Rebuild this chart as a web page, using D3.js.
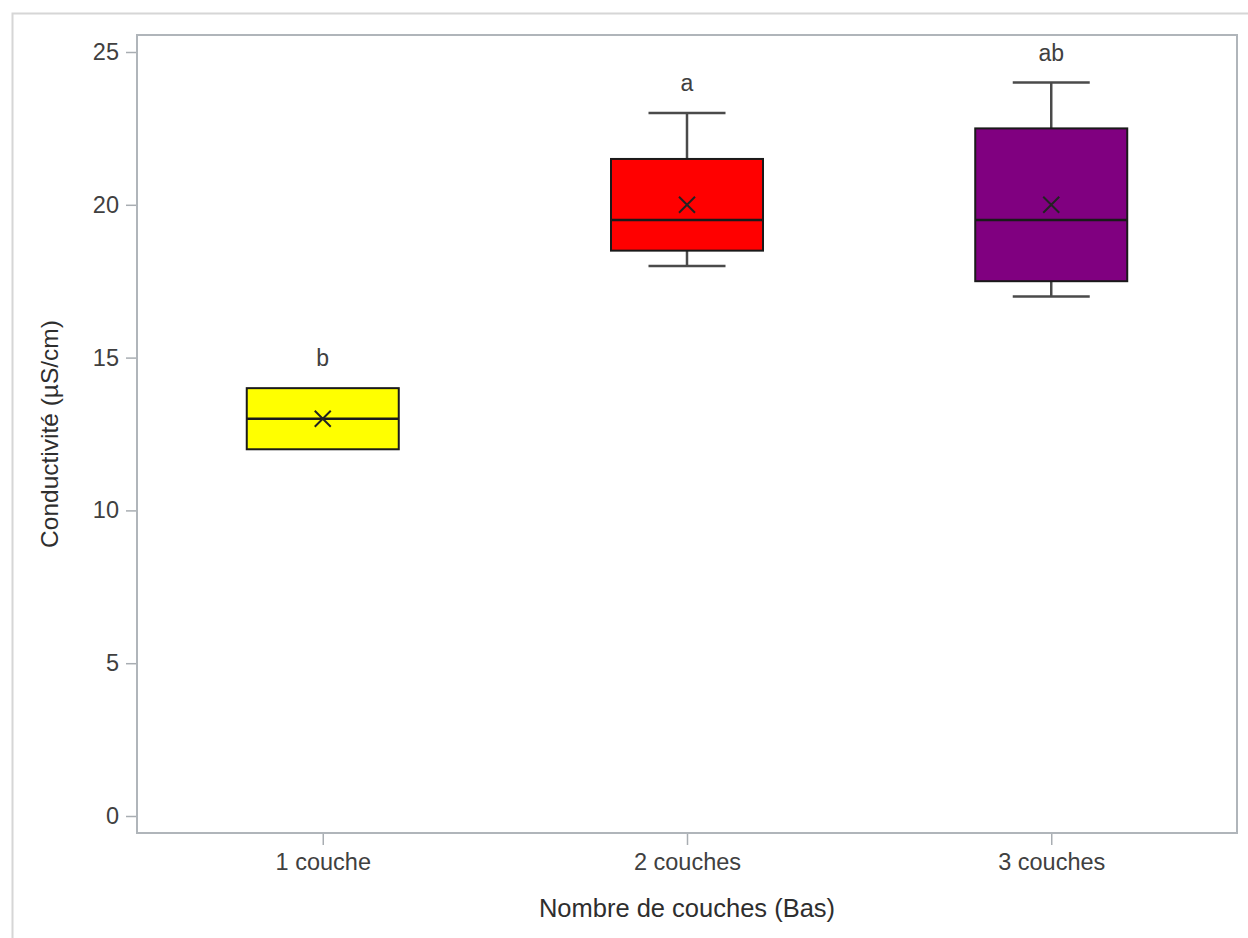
<!DOCTYPE html>
<html><head><meta charset="utf-8">
<script src="https://cdn.jsdelivr.net/npm/d3@7"></script>
<style>
html,body{margin:0;padding:0;background:#fff;overflow:hidden;}
svg{display:block;}
text{font-family:"Liberation Sans",Arial,sans-serif;}
</style></head>
<body>
<script>
const categories = ["1 couche", "2 couches", "3 couches"];
const mins    = [12, 18, 17];
const q1s     = [12, 18.5, 17.5];
const medians = [13, 19.5, 19.5];
const q3s     = [14, 21.5, 22.5];
const maxs    = [14, 23, 24];
const means   = [13, 20, 20];
const letters = ["b", "a", "ab"];
const colors  = ["#ffff00", "#ff0000", "#800080"];
const yTicks  = [0, 5, 10, 15, 20, 25];

const W = 1248, H = 938;
const mLeft = 137, mRight = 1237, mTop = 35, mBottom = 833;

const svg = d3.select("body").append("svg").attr("width", W).attr("height", H);

// outer border
svg.append("rect").attr("x", 12.5).attr("y", 13.5).attr("width", W).attr("height", H)
  .attr("fill", "none").attr("stroke", "#d6d6d6").attr("stroke-width", 2);

const y = d3.scaleLinear().domain([0, 25]).range([816, 52]);
const x = d3.scalePoint().domain(categories).range([mLeft, mRight]).padding(0.51);

// Axes
const yAxis = d3.axisLeft(y).tickValues(yTicks).tickSize(11).tickPadding(7);
const gy = svg.append("g").attr("transform", `translate(${mLeft},0)`).call(yAxis);
const xAxis = d3.axisBottom(x).tickSize(12).tickPadding(8);
const gx = svg.append("g").attr("transform", `translate(0,${mBottom})`).call(xAxis);
[gy, gx].forEach(g => {
  g.select(".domain").remove();
  g.selectAll(".tick line").attr("stroke", "#a8adb2").attr("stroke-width", 1.5);
  g.selectAll(".tick text").attr("fill", "#404040").style("font-size", "23.5px")
    .style("font-family", '"Liberation Sans",Arial,sans-serif');
});

// frame
svg.append("rect").attr("x", mLeft).attr("y", mTop).attr("width", mRight - mLeft).attr("height", mBottom - mTop)
  .attr("fill", "none").attr("stroke", "#b0b5ba").attr("stroke-width", 2);

const boxW = 152, capW = 77;
const g = svg.append("g");
categories.forEach((c, i) => {
  const cx = x(c);
  // whiskers
  if (maxs[i] > q3s[i]) {
    g.append("line").attr("x1", cx).attr("x2", cx).attr("y1", y(q3s[i])).attr("y2", y(maxs[i]))
      .attr("stroke", "#4a4a4a").attr("stroke-width", 2.5);
    g.append("line").attr("x1", cx - capW/2).attr("x2", cx + capW/2).attr("y1", y(maxs[i])).attr("y2", y(maxs[i]))
      .attr("stroke", "#4a4a4a").attr("stroke-width", 2.5);
  }
  if (mins[i] < q1s[i]) {
    g.append("line").attr("x1", cx).attr("x2", cx).attr("y1", y(q1s[i])).attr("y2", y(mins[i]))
      .attr("stroke", "#4a4a4a").attr("stroke-width", 2.5);
    g.append("line").attr("x1", cx - capW/2).attr("x2", cx + capW/2).attr("y1", y(mins[i])).attr("y2", y(mins[i]))
      .attr("stroke", "#4a4a4a").attr("stroke-width", 2.5);
  }
  // box
  g.append("rect").attr("x", cx - boxW/2).attr("y", y(q3s[i])).attr("width", boxW)
    .attr("height", y(q1s[i]) - y(q3s[i])).attr("fill", colors[i])
    .attr("stroke", "#1a1a1a").attr("stroke-width", 2);
  // median
  g.append("line").attr("x1", cx - boxW/2).attr("x2", cx + boxW/2).attr("y1", y(medians[i])).attr("y2", y(medians[i]))
    .attr("stroke", "#1a1a1a").attr("stroke-width", 2.5);
  // mean X
  const s = 8, my = y(means[i]);
  g.append("path").attr("d", `M${cx - s},${my - s}L${cx + s},${my + s}M${cx - s},${my + s}L${cx + s},${my - s}`)
    .attr("stroke", "#222").attr("stroke-width", 2).attr("fill", "none");
  // letter
  g.append("text").attr("x", cx).attr("y", y(maxs[i]) - 30).attr("dy", "0.35em")
    .attr("text-anchor", "middle").attr("fill", "#404040").style("font-size", "23px").text(letters[i]);
});

// axis titles
svg.append("text").attr("x", (mLeft + mRight) / 2).attr("y", 908).attr("dy", "0.35em")
  .attr("text-anchor", "middle").attr("fill", "#2e2e2e").style("font-size", "25.5px")
  .text("Nombre de couches (Bas)");
svg.append("text").attr("transform", `translate(49,${(mTop + mBottom) / 2}) rotate(-90)`).attr("dy", "0.35em")
  .attr("text-anchor", "middle").attr("fill", "#2e2e2e").style("font-size", "24.5px")
  .text("Conductivité (µS/cm)");
</script>
</body></html>
